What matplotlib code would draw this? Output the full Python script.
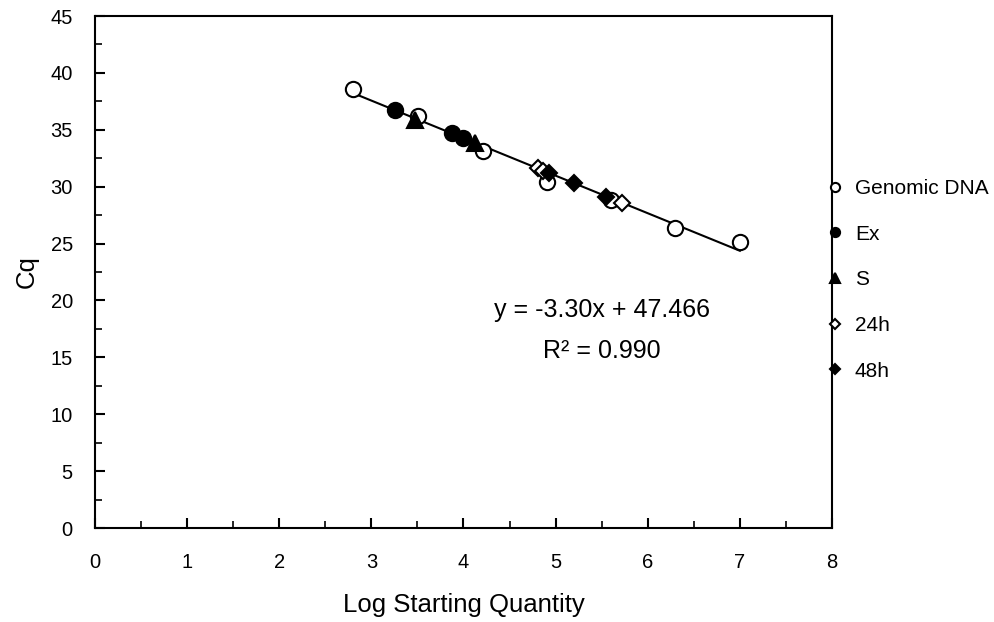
import numpy as np
import matplotlib
matplotlib.use("Agg")
import matplotlib.pyplot as plt
from matplotlib.ticker import MultipleLocator

plt.rcParams['font.family'] = ['Liberation Sans', 'DejaVu Sans']

# data
genomic_x = [2.80, 3.51, 4.21, 4.91, 5.60, 6.30, 7.00]
genomic_y = [38.6, 36.2, 33.1, 30.4, 28.8, 26.4, 25.1]
ex_x = [3.26, 3.87, 4.00]
ex_y = [36.7, 34.7, 34.3]
s_x = [3.47, 4.12]
s_y = [35.9, 33.8]
h24_x = [4.81, 4.86, 5.72]
h24_y = [31.6, 31.4, 28.6]
h48_x = [4.93, 5.20, 5.55]
h48_y = [31.2, 30.3, 29.1]

slope = -3.30
intercept = 47.466
r2 = 0.990

fig = plt.figure(figsize=(9.95, 6.22), dpi=100)
ax = fig.add_axes([95/995, 1-528/622, (832-95)/995, (528-16)/622])

# trend line over the range of the standards
xl = np.array([min(genomic_x), max(genomic_x)])
ax.plot(xl, slope*xl + intercept, color='black', lw=1.5, zorder=2)

ms = 11
mew = 1.5
ax.plot(genomic_x, genomic_y, 'o', ms=ms, mfc='white', mec='black', mew=mew, zorder=3, label='Genomic DNA')
ax.plot(ex_x, ex_y, 'o', ms=ms, mfc='black', mec='black', mew=mew, zorder=4, label='Ex')
ax.plot(s_x, s_y, '^', ms=ms, mfc='black', mec='black', mew=mew, zorder=4, label='S')
ax.plot(h24_x, h24_y, 'D', ms=8, mfc='white', mec='black', mew=mew, zorder=4, label='24h')
ax.plot(h48_x, h48_y, 'D', ms=8, mfc='black', mec='black', mew=mew, zorder=5, label='48h')

ax.set_xlim(0, 8)
ax.set_ylim(0, 45)
ax.xaxis.set_major_locator(MultipleLocator(1))
ax.xaxis.set_minor_locator(MultipleLocator(0.5))
ax.yaxis.set_major_locator(MultipleLocator(5))
ax.yaxis.set_minor_locator(MultipleLocator(2.5))
ax.tick_params(which='major', direction='in', length=7, width=1.5, labelsize=14.5)
ax.tick_params(which='minor', direction='in', length=5, width=1.2)
ax.tick_params(axis='x', pad=18)
ax.tick_params(axis='y', pad=16)
for sp in ax.spines.values():
    sp.set_linewidth(1.5)

ax.set_xlabel('Log Starting Quantity', fontsize=18.5, labelpad=15)
ax.set_ylabel('Cq', fontsize=18.5, labelpad=8.5)

ax.text(5.5, 19.2, 'y = -3.30x + 47.466', fontsize=18, ha='center', va='center')
ax.text(5.5, 15.6, 'R² = %.3f' % r2, fontsize=18, ha='center', va='center')

fig.legend(loc='upper left', bbox_to_anchor=(830/995, 1-179/622), frameon=False,
           fontsize=15, markerscale=0.6, handlelength=0.5, handletextpad=0.7,
           labelspacing=1.28, borderpad=0, borderaxespad=0)

fig.savefig('out.png', dpi=100)
